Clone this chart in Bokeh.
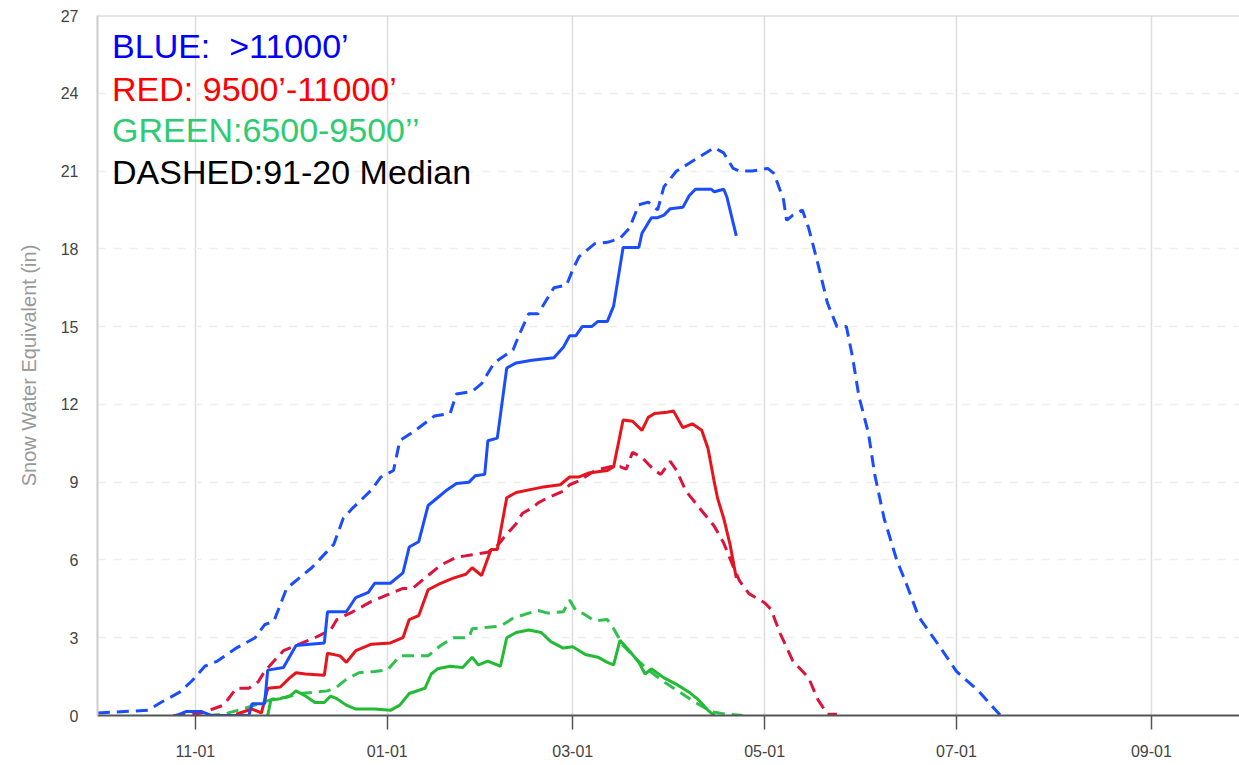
import pandas as pd
from bokeh.plotting import figure
from bokeh.models import FixedTicker, DatetimeTickFormatter, Label, Span, Range1d
from bokeh.embed import file_html
from bokeh.resources import INLINE

# ---------------- data (water year 2021: Oct 2020 - Sep 2021) ----------------
# BLUE  >11000'  (dashed = 91-20 median, solid = current year)
blue_med_dates = ["10-01", "10-17", "10-21", "10-27", "10-31",
                  "11-04", "11-08", "11-14", "11-20", "11-23", "11-26", "11-30",
                  "12-08", "12-15", "12-18", "12-21", "12-27", "12-30",
                  "01-03", "01-05", "01-10", "01-16", "01-21", "01-23", "01-28", "01-31",
                  "02-04", "02-10", "02-12", "02-15", "02-18", "02-21", "02-23", "02-27",
                  "03-01", "03-03", "03-08", "03-12", "03-16", "03-19", "03-22", "03-25", "03-28", "03-30",
                  "04-03", "04-07", "04-11", "04-15", "04-18", "04-21", "04-23", "04-27",
                  "05-02", "05-04", "05-07", "05-08", "05-10", "05-13", "05-15", "05-18", "05-21", "05-24",
                  "05-27", "05-29", "05-31",
                  "06-03", "06-05", "06-08", "06-12", "06-15", "06-19", "06-26",
                  "07-01", "07-08", "07-15"]
blue_med_swe = [0.1, 0.2, 0.5, 0.9, 1.35,
                1.9, 2.1, 2.6, 3.0, 3.5, 3.65, 4.9,
                5.7, 6.6, 7.6, 8.0, 8.7, 9.2,
                9.45, 10.6, 11.0, 11.55, 11.65, 12.4, 12.5, 12.8,
                13.6, 14.1, 14.7, 15.5, 15.5, 16.1, 16.5, 16.6,
                17.2, 17.7, 18.2, 18.25, 18.4, 18.8, 19.7, 19.8, 19.5, 20.4,
                21.0, 21.3, 21.6, 21.9, 21.7, 21.1, 21.0, 21.0,
                21.1, 20.9, 19.9, 19.1, 19.3, 19.5, 18.8, 17.4, 15.9, 15.0,
                15.0, 13.8, 12.3,
                10.9, 9.3, 7.6, 6.0, 5.1, 3.8, 2.6,
                1.7, 0.95, 0.0]

blue_cur_dates = ["10-26", "10-29",
                  "11-03", "11-06", "11-18", "11-19", "11-23", "11-24", "11-29",
                  "12-03", "12-12", "12-13", "12-19", "12-22", "12-26", "12-28",
                  "01-02", "01-06", "01-08", "01-11", "01-14", "01-17", "01-20", "01-23", "01-27", "01-29",
                  "02-01", "02-02", "02-05", "02-08", "02-11", "02-16", "02-23", "02-26", "02-28",
                  "03-02", "03-04", "03-07", "03-09", "03-12", "03-14", "03-17", "03-22", "03-23", "03-26",
                  "03-28", "03-30",
                  "04-01", "04-05", "04-07", "04-09", "04-14", "04-15", "04-18", "04-19", "04-22"]
blue_cur_swe = [0.0, 0.15,
                0.15, 0.0, 0.0, 0.45, 0.45, 1.75, 1.85,
                2.7, 2.8, 4.0, 4.0, 4.55, 4.75, 5.1,
                5.1, 5.5, 6.5, 6.7, 8.1, 8.4, 8.7, 8.95, 9.0, 9.25,
                9.3, 10.6, 10.7, 13.4, 13.6, 13.7, 13.8, 14.2, 14.65,
                14.65, 15.0, 15.0, 15.2, 15.2, 15.8, 18.05, 18.05, 18.6, 19.2,
                19.2, 19.3,
                19.55, 19.6, 20.05, 20.3, 20.3, 20.2, 20.3, 20.0, 18.5]

# RED  9500'-11000'
red_med_dates = ["10-25", "10-31",
                 "11-03", "11-10", "11-14", "11-18", "11-21", "11-23", "11-26", "11-29",
                 "12-03", "12-09", "12-14", "12-16", "12-21", "12-27",
                 "01-01", "01-06", "01-09", "01-13", "01-18", "01-23", "01-28",
                 "02-02", "02-05", "02-08", "02-11", "02-13", "02-16", "02-18", "02-21", "02-26", "02-28",
                 "03-03", "03-08", "03-13", "03-16", "03-18", "03-20", "03-23", "03-27", "03-29",
                 "04-01", "04-03", "04-06", "04-11", "04-15", "04-18", "04-21", "04-23", "04-26",
                 "05-01", "05-03", "05-06", "05-10", "05-15", "05-18", "05-21", "05-24"]
red_med_swe = [0.0, 0.05,
               0.1, 0.4, 1.05, 1.05, 1.3, 1.7, 2.1, 2.5,
               2.7, 3.0, 3.3, 3.7, 4.0, 4.4,
               4.65, 4.9, 4.9, 5.3, 5.8, 6.1, 6.2,
               6.3, 6.55, 7.0, 7.4, 7.8, 8.0, 8.2, 8.4, 8.65, 8.9,
               9.05, 9.45, 9.6, 9.6, 9.5, 10.15, 9.95, 9.45, 9.3,
               9.8, 9.45, 8.65, 7.9, 7.3, 6.65, 5.75, 5.2, 4.7,
               4.35, 4.1, 3.15, 2.1, 1.45, 0.6, 0.05, 0.05]

red_cur_dates = ["11-14", "11-19", "11-22", "11-24", "11-28",
                 "12-01", "12-03", "12-06", "12-12", "12-13", "12-17", "12-19", "12-22", "12-27",
                 "01-02", "01-06", "01-08", "01-11", "01-14", "01-18", "01-22", "01-26", "01-28", "01-31",
                 "02-03", "02-05", "02-08", "02-11", "02-19", "02-25", "02-28",
                 "03-03", "03-06", "03-12", "03-14", "03-17", "03-20", "03-23", "03-25", "03-27", "03-31",
                 "04-02", "04-05", "04-08", "04-11", "04-13", "04-15", "04-16", "04-18", "04-20", "04-22"]
red_cur_swe = [0.05, 0.25, 0.1, 1.05, 1.1,
               1.45, 1.65, 1.6, 1.55, 2.4, 2.3, 2.05, 2.5, 2.75,
               2.8, 3.0, 3.7, 3.85, 4.85, 5.1, 5.3, 5.45, 5.7, 5.4,
               6.4, 6.4, 8.4, 8.6, 8.8, 8.9, 9.2,
               9.2, 9.35, 9.45, 9.6, 11.4, 11.35, 11.0, 11.5, 11.65, 11.7,
               11.75, 11.1, 11.25, 11.0, 10.3, 9.0, 8.4, 7.6, 6.6, 5.3]

# GREEN  6500-9500'
green_med_dates = ["11-05", "11-10", "11-16", "11-20", "11-26", "11-30",
                   "12-04", "12-09", "12-13", "12-16", "12-19", "12-23", "12-28",
                   "01-01", "01-05", "01-14", "01-18", "01-22", "01-27", "01-28",
                   "02-02", "02-06", "02-10", "02-15", "02-18", "02-21", "02-26", "02-28",
                   "03-02", "03-04", "03-08", "03-12", "03-14", "03-17", "03-21", "03-25", "03-30",
                   "04-04", "04-09", "04-14", "04-19", "04-24"]
green_med_swe = [0.0, 0.05, 0.25, 0.4, 0.65, 0.7,
                 0.85, 0.9, 0.95, 1.1, 1.4, 1.65, 1.7,
                 1.75, 2.3, 2.3, 2.7, 3.0, 3.0, 3.35,
                 3.4, 3.45, 3.75, 3.95, 4.05, 3.95, 4.0, 4.45,
                 4.05, 3.95, 3.65, 3.7, 3.35, 2.7, 2.2, 1.75, 1.3,
                 0.9, 0.5, 0.15, 0.05, 0.0]

green_cur_dates = ["11-24", "11-25", "11-28",
                   "12-01", "12-03", "12-06", "12-09", "12-12", "12-14", "12-16", "12-19", "12-22", "12-28",
                   "01-02", "01-05", "01-08", "01-13", "01-15", "01-17", "01-21", "01-25", "01-28", "01-30",
                   "02-02", "02-06", "02-08", "02-11", "02-15", "02-19", "02-22", "02-26",
                   "03-01", "03-05", "03-09", "03-12", "03-14", "03-16", "03-19", "03-22", "03-24", "03-26",
                   "03-30",
                   "04-03", "04-07", "04-10", "04-13", "04-15"]
green_cur_swe = [0.0, 0.6, 0.65,
                 0.75, 0.95, 0.75, 0.5, 0.5, 0.75, 0.65, 0.4, 0.25, 0.25,
                 0.2, 0.4, 0.85, 1.05, 1.6, 1.8, 1.9, 1.85, 2.25, 1.95,
                 2.1, 1.9, 3.0, 3.2, 3.3, 3.2, 2.85, 2.6,
                 2.65, 2.35, 2.25, 2.05, 1.95, 2.9, 2.5, 2.05, 1.6, 1.8,
                 1.45,
                 1.2, 0.9, 0.6, 0.2, 0.0]

x_tick_dates = ["11-01", "01-01", "03-01", "05-01", "07-01", "09-01"]
y_ticks = [0, 3, 6, 9, 12, 15, 18, 21, 24, 27]

legend_lines = ["BLUE:\u00a0 >11000\u2019", "RED: 9500\u2019-11000\u2019",
                "GREEN:6500-9500\u2019\u2019", "DASHED:91-20 Median"]
legend_colors = ["#0000ff", "#ff0000", "#2ecc71", "#000000"]


def wy_date(md):
    m = int(md[:2])
    year = 2020 if m >= 10 else 2021
    return pd.Timestamp(f"{year}-{md}")


def dates(lst):
    return [wy_date(s) for s in lst]


def ms(ts):
    return ts.value / 1e6


# ---------------- figure ----------------
wy_start = pd.Timestamp("2020-10-01")
x_start = wy_start - pd.Timedelta(hours=3)
x_end = wy_start + pd.Timedelta(days=363.0)

p = figure(width=1239, height=762, output_backend="svg", toolbar_location=None,
           x_axis_type="datetime",
           x_range=Range1d(x_start, x_end), y_range=Range1d(0, 27),
           min_border_left=97, min_border_right=0, min_border_top=15, min_border_bottom=47)
p.outline_line_color = None
p.background_fill_color = "white"
p.border_fill_color = "white"

# axes
p.xaxis.ticker = FixedTicker(ticks=[ms(wy_date(d)) for d in x_tick_dates])
fmt = "%m-%d"
p.xaxis.formatter = DatetimeTickFormatter(milliseconds=fmt, seconds=fmt, minsec=fmt, minutes=fmt,
                                          hourmin=fmt, hours=fmt, days=fmt, months=fmt, years=fmt)
p.xaxis.axis_line_color = "#555555"
p.xaxis.axis_line_width = 2
p.xaxis.major_tick_line_color = "#555555"
p.xaxis.major_tick_line_width = 1.5
p.xaxis.major_tick_in = 0
p.xaxis.major_tick_out = 14
p.xaxis.minor_tick_line_color = None
p.xaxis.major_label_standoff = 15
p.xaxis.major_label_text_font = "Liberation Sans"
p.xaxis.major_label_text_font_size = "16px"
p.xaxis.major_label_text_color = "#444444"

p.yaxis.ticker = FixedTicker(ticks=y_ticks)
p.yaxis.axis_line_color = "#cccccc"
p.yaxis.axis_line_width = 2
p.yaxis.major_tick_line_color = None
p.yaxis.minor_tick_line_color = None
p.yaxis.major_label_standoff = 13
p.yaxis.major_label_text_font = "Liberation Sans"
p.yaxis.major_label_text_font_size = "16px"
p.yaxis.major_label_text_color = "#444444"
p.yaxis.axis_label = "Snow Water Equivalent (in)"
p.yaxis.axis_label_text_font = "Liberation Sans"
p.yaxis.axis_label_text_font_size = "20px"
p.yaxis.axis_label_text_font_style = "normal"
p.yaxis.axis_label_text_color = "#999999"
p.yaxis.axis_label_standoff = 18

# grids
p.xgrid.grid_line_color = "#dddddd"
p.xgrid.grid_line_width = 1.5
p.ygrid.grid_line_color = "#eeeeee"
p.ygrid.grid_line_width = 1.5
p.ygrid.grid_line_dash = "8 8"

p.add_layout(Span(location=27, dimension="width", line_color="#cccccc", line_width=2))

# series
dash = "12 7"
p.line(dates(blue_med_dates), blue_med_swe, line_color="#1a4dff", line_width=3, line_dash=dash)
p.line(dates(red_med_dates), red_med_swe, line_color="#dc143c", line_width=3, line_dash=dash)
p.line(dates(green_med_dates), green_med_swe, line_color="#2fc150", line_width=3, line_dash=dash)
p.line(dates(green_cur_dates), green_cur_swe, line_color="#22bb33", line_width=3)
p.line(dates(red_cur_dates), red_cur_swe, line_color="#e8141c", line_width=3)
p.line(dates(blue_cur_dates), blue_cur_swe, line_color="#1a4dff", line_width=3)

# text legend
label_x = ms(wy_start + pd.Timedelta(days=4.5))
label_y = [25.84, 24.18, 22.60, 20.98]
for txt, col, yy in zip(legend_lines, legend_colors, label_y):
    p.add_layout(Label(x=label_x, y=yy, text=txt, text_color=col,
                       text_font="Liberation Sans", text_font_size="34px",
                       text_baseline="alphabetic", text_align="left"))

open("out.html", "w").write(file_html(p, INLINE))
